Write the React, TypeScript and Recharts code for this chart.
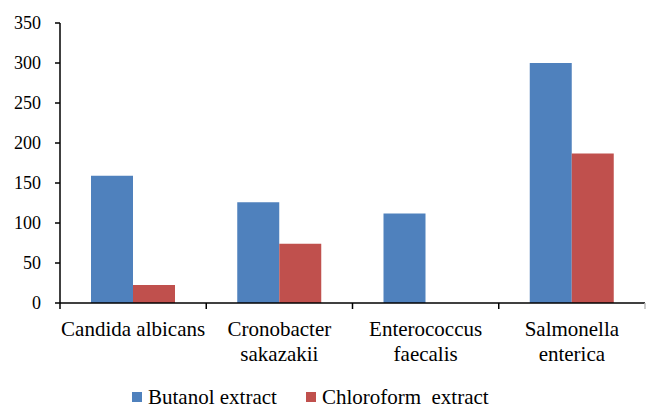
import { Bar, BarChart, Legend, XAxis, YAxis } from "recharts";

const categories = ["Candida albicans", "Cronobacter sakazakii", "Enterococcus faecalis", "Salmonella enterica"];
const categoryLines = [["Candida albicans"], ["Cronobacter", "sakazakii"], ["Enterococcus", "faecalis"], ["Salmonella", "enterica"]];
const butanol = [159, 126, 112, 300];
const chloroform = [22.5, 74, 0, 187];
const yTicks = [0, 50, 100, 150, 200, 250, 300, 350];

const seriesInfo = [
  { key: "butanol", name: "Butanol extract", color: "#4f81bd" },
  { key: "chloroform", name: "Chloroform  extract", color: "#c0504d" },
];

const data = categories.map((name, i) => ({
  name,
  butanol: butanol[i],
  chloroform: chloroform[i],
}));

const FONT = "Liberation Serif, Times New Roman, Times, DejaVu Serif, serif";
const WIDTH = 646;
const HEIGHT = 409;
const PLOT_LEFT = 60;
const PLOT_RIGHT_MARGIN = 1;
const BAND = (WIDTH - PLOT_LEFT - PLOT_RIGHT_MARGIN) / categories.length;

function CategoryTick(props: any) {
  const { x, y, payload, index } = props;
  const lines = categoryLines[index] ?? [String(payload.value)];
  const left = x - BAND / 2;
  const right = x + BAND / 2;
  return (
    <g>
      <line x1={left} x2={left} y1={y} y2={y + 6} stroke="#000" strokeWidth={1.5} />
      {index === categories.length - 1 && (
        <line x1={right} x2={right} y1={y} y2={y + 6} stroke="#bbb" strokeWidth={1.5} />
      )}
      <text x={x} y={y + 33} textAnchor="middle" style={{ fontFamily: FONT }} fontSize={21} fill="#000">
        {lines.map((line: string, i: number) => (
          <tspan key={i} x={x} dy={i === 0 ? 0 : 25}>
            {line}
          </tspan>
        ))}
      </text>
    </g>
  );
}

function LegendContent() {
  return (
    <div
      style={{
        display: "flex",
        alignItems: "center",
        height: 30,
        paddingLeft: 132,
        paddingTop: 6,
        boxSizing: "border-box",
        fontFamily: FONT,
        fontSize: 21,
        color: "#000",
        whiteSpace: "pre",
      }}
    >
      {seriesInfo.map((s, i) => (
        <div key={s.key} style={{ display: "flex", alignItems: "center", marginRight: i === 0 ? 29 : 0 }}>
          <span style={{ width: 10, height: 10, background: s.color, display: "inline-block", marginRight: 6 }} />
          <span>{s.name}</span>
        </div>
      ))}
    </div>
  );
}

export default function App() {
  return (
    <div style={{ position: "absolute", left: 0, top: 0, width: WIDTH, height: HEIGHT, background: "#fff", fontFamily: FONT }}>
      <BarChart
        width={WIDTH}
        height={HEIGHT}
        data={data}
        margin={{ top: 23, right: PLOT_RIGHT_MARGIN, left: 0, bottom: 0 }}
        barCategoryGap={31}
        barGap={0}
      >
        <XAxis
          dataKey="name"
          height={76}
          interval={0}
          tick={<CategoryTick />}
          tickLine={false}
          tickSize={0}
          tickMargin={0}
          axisLine={{ stroke: "#000", strokeWidth: 1.5 }}
        />
        <YAxis
          width={PLOT_LEFT}
          domain={[0, 350]}
          ticks={yTicks}
          interval={0}
          tickSize={5}
          tickMargin={14}
          axisLine={{ stroke: "#000", strokeWidth: 1.5 }}
          tickLine={{ stroke: "#000", strokeWidth: 1.5 }}
          tick={{ fill: "#000", fontSize: 18, style: { fontFamily: FONT } }}
        />
        <Legend verticalAlign="bottom" height={30} content={<LegendContent />} />
        {seriesInfo.map((s) => (
          <Bar key={s.key} dataKey={s.key} name={s.name} fill={s.color} isAnimationActive={false} />
        ))}
      </BarChart>
    </div>
  );
}
